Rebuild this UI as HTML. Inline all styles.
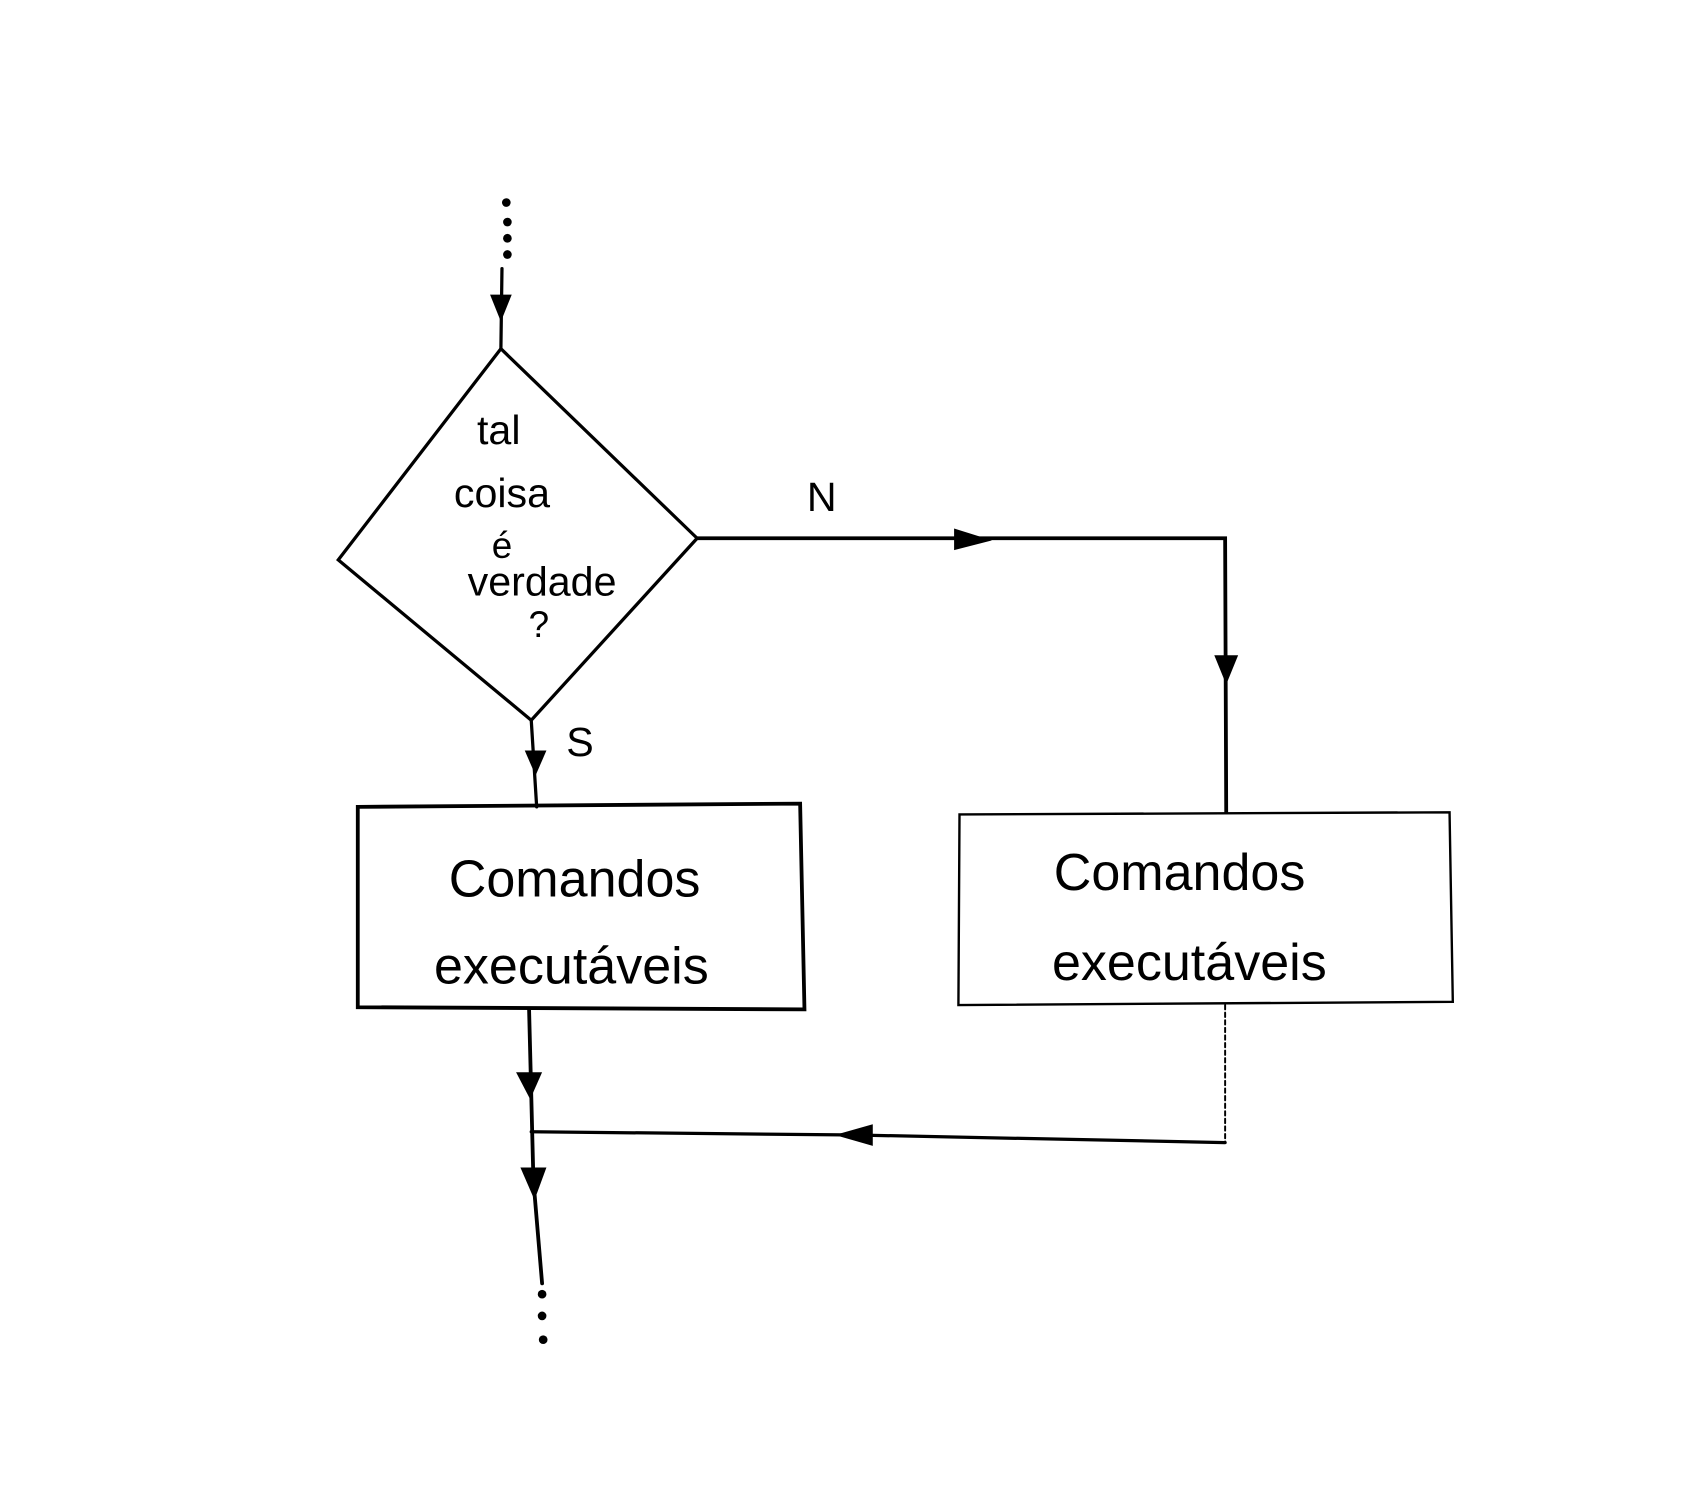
<!DOCTYPE html>
<html><head><meta charset="utf-8"><style>
html,body{margin:0;padding:0;background:#fff;}
svg{display:block;}
text{font-family:"Liberation Sans",sans-serif;fill:#000;}
</style></head><body>
<svg width="1700" height="1500" viewBox="0 0 1568 1385" preserveAspectRatio="none" xmlns="http://www.w3.org/2000/svg">
<rect width="1568" height="1385" fill="#fff"/>
<g stroke="#000" fill="none" stroke-linecap="round">
<!-- top dots -->
<g fill="#000" stroke="none">
<circle cx="467" cy="187" r="4"/><circle cx="468" cy="205" r="4"/><circle cx="468" cy="220" r="4"/><circle cx="468" cy="235" r="4"/>
<circle cx="500" cy="1195" r="4"/><circle cx="500" cy="1215" r="4"/><circle cx="501" cy="1237" r="4"/>
</g>
<path d="M463 248 L462 322" stroke-width="3"/>
<path d="M462 322 L312 517 L490 665 L643 497 Z" stroke-width="3"/>
<!-- N branch -->
<path d="M643 497 L1130 497 L1131 750" stroke-width="3.5"/>
<!-- S branch -->
<path d="M490 665 L495 745" stroke-width="3"/>
<!-- box1 -->
<path d="M330 745 L738 742 L742 932 L330 930 Z" stroke-width="3.5"/>
<!-- box2 -->
<path d="M885 752 L1337 750 L1340 925 L884 928 Z" stroke-width="2.2"/>
<!-- bottom left line -->
<path d="M488 932 L492 1090 L500 1185" stroke-width="3.5"/>
<!-- right return -->
<path d="M1130 928 L1130 1055" stroke-width="1.8" stroke-dasharray="4 3"/>
<path d="M1130 1055 L790 1048 L490 1045" stroke-width="3"/>
</g>
<g fill="#000">
<polygon points="452,272 472,272 462,297"/>
<polygon points="880,488 880,508 915,499"/>
<polygon points="1120,605 1142,605 1131,632"/>
<polygon points="484,693 504,693 494,716"/>
<polygon points="476,990 500,990 489,1015"/>
<polygon points="480,1078 504,1078 493,1108"/>
<polygon points="805,1038 805,1058 770,1048"/>
</g>
<text x="460" y="410" font-size="38" text-anchor="middle">tal</text>
<text x="463" y="468" font-size="38" text-anchor="middle">coisa</text>
<text x="463" y="515" font-size="34" text-anchor="middle">é</text>
<text x="500" y="550" font-size="38" text-anchor="middle">verdade</text>
<text x="497" y="588" font-size="34" text-anchor="middle">?</text>
<text x="758" y="472" font-size="38" text-anchor="middle">N</text>
<text x="535" y="698" font-size="38" text-anchor="middle">S</text>
<text x="530" y="828" font-size="48" text-anchor="middle">Comandos</text>
<text x="527" y="908" font-size="48" text-anchor="middle">executáveis</text>
<text x="1088" y="822" font-size="48" text-anchor="middle">Comandos</text>
<text x="1097" y="905" font-size="48" text-anchor="middle">executáveis</text>
</svg>
</body></html>
